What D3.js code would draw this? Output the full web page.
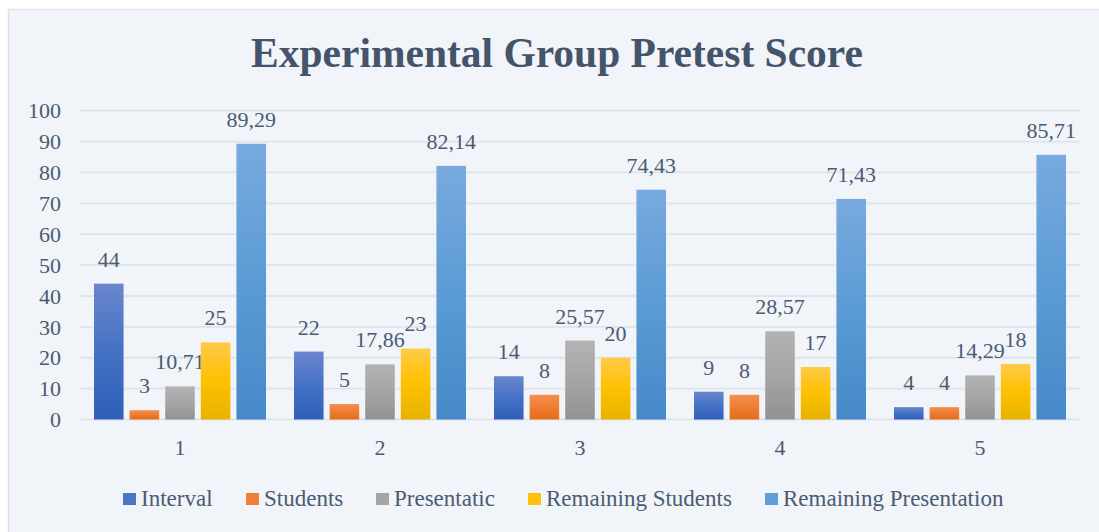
<!DOCTYPE html>
<html><head><meta charset="utf-8">
<script src="https://cdn.jsdelivr.net/npm/d3@7"></script>
<style>html,body{margin:0;padding:0;background:#fff;}svg{display:block;}</style>
</head><body>
<svg id="c" width="1099" height="532"></svg>
<script>
const categories = ["1","2","3","4","5"];
const seriesNames = ["Interval","Students","Presentatic","Remaining Students","Remaining Presentation"];
const interval = [44, 22, 14, 9, 4];
const students = [3, 5, 8, 8, 4];
const presentatic = [10.71, 17.86, 25.57, 28.57, 14.29];
const remainingStudents = [25, 23, 20, 17, 18];
const remainingPresentation = [89.29, 82.14, 74.43, 71.43, 85.71];
const yTicks = [0,10,20,30,40,50,60,70,80,90,100];
const titleText = "Experimental Group Pretest Score";

const seriesValues = [interval, students, presentatic, remainingStudents, remainingPresentation];
const gradStops = [
  ["#6a86cd","#4472c4","#2f5fb9"],
  ["#f68d50","#ed7d31","#e56c18"],
  ["#b3b3b3","#a5a5a5","#929292"],
  ["#ffca48","#ffc000","#e6b300"],
  ["#78aade","#5b9bd5","#4689c8"]
];
const legendSwatch = ["#4a76c8","#f08038","#a5a5a5","#ffc20a","#60a0da"];
const legendX = [123, 246, 376, 528, 765];

const svg = d3.select("#c");
const FONT = "Liberation Serif, Times New Roman, serif";
const TXT = "#4b5b72";

svg.append("rect").attr("x",8.5).attr("y",9.5).attr("width",1100).attr("height",530)
  .attr("fill","#f1f4f9").attr("stroke","#dde2ea").attr("stroke-width",1.5);

const defs = svg.append("defs");
gradStops.forEach((s,i)=>{
  const g = defs.append("linearGradient").attr("id","g"+i).attr("x1",0).attr("y1",0).attr("x2",0).attr("y2",1);
  g.append("stop").attr("offset","0%").attr("stop-color",s[0]);
  g.append("stop").attr("offset","50%").attr("stop-color",s[1]);
  g.append("stop").attr("offset","100%").attr("stop-color",s[2]);
});

const x0 = d3.scaleBand().domain(categories).range([80,1080]).padding(0);
const x1 = d3.scaleBand().domain(seriesNames).range([14,186]).paddingInner(0.17).paddingOuter(0);
const y = d3.scaleLinear().domain([0,100]).range([419.5,110.7]);

svg.append("g").selectAll("line").data(yTicks).join("line")
  .attr("x1",80).attr("x2",1080)
  .attr("y1",d=>y(d)).attr("y2",d=>y(d))
  .attr("stroke","#dfe3ea").attr("stroke-width",d=>d===0?2:1.8);

svg.append("g").selectAll("text").data(yTicks).join("text")
  .attr("x",61).attr("y",d=>y(d)).attr("dy","0.35em")
  .attr("text-anchor","end").attr("font-family",FONT).attr("font-size",22)
  .attr("fill",TXT).text(d=>d);

const fmt = v => String(v).replace(".", ",");
seriesNames.forEach((name,si)=>{
  const g = svg.append("g");
  const vals = seriesValues[si];
  g.selectAll("rect").data(categories).join("rect")
    .attr("x",(c)=>x0(c)+x1(name))
    .attr("width",x1.bandwidth())
    .attr("y",(c,i)=>y(vals[i]))
    .attr("height",(c,i)=>y(0)-y(vals[i]))
    .attr("fill","url(#g"+si+")");
  g.selectAll("text").data(categories).join("text")
    .attr("x",(c)=>x0(c)+x1(name)+x1.bandwidth()/2)
    .attr("y",(c,i)=>y(vals[i])-17)
    .attr("text-anchor","middle").attr("font-family",FONT).attr("font-size",22)
    .attr("fill",TXT).text((c,i)=>fmt(vals[i]));
});

svg.append("g").selectAll("text").data(categories).join("text")
  .attr("x",c=>x0(c)+x0.bandwidth()/2).attr("y",455)
  .attr("text-anchor","middle").attr("font-family",FONT).attr("font-size",22)
  .attr("fill",TXT).text(c=>c);

const t = svg.append("text").attr("x",557).attr("y",67).attr("text-anchor","middle")
  .attr("font-family",FONT).attr("font-weight","bold").attr("font-size",40)
  .attr("fill","#44546a").text(titleText);
const w = t.node().getComputedTextLength();
t.attr("font-size", 40*612/w);

const lg = svg.append("g");
seriesNames.forEach((name,i)=>{
  lg.append("rect").attr("x",legendX[i]).attr("y",493).attr("width",13).attr("height",12)
    .attr("fill",legendSwatch[i]);
  lg.append("text").attr("x",legendX[i]+18).attr("y",506)
    .attr("font-family",FONT).attr("font-size",23).attr("fill",TXT).text(name);
});
</script>
</body></html>
